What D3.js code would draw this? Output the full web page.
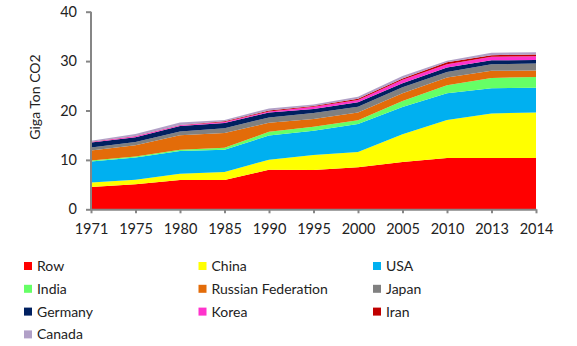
<!DOCTYPE html>
<html>
<head>
<meta charset="utf-8">
<script src="https://cdnjs.cloudflare.com/ajax/libs/d3/7.8.5/d3.min.js"></script>
<style>
  body { margin: 0; background: #fff; }
  svg text { font-family: Lato, "Open Sans", sans-serif; fill: #222; }
</style>
</head>
<body>
<svg id="chart" width="577" height="346"></svg>
<script>
// CO2 emissions by country, Gt
var years = ['1971', '1975', '1980', '1985', '1990', '1995', '2000', '2005', '2010', '2013', '2014'];
var countries = ['Row', 'China', 'USA', 'India', 'Russian Federation', 'Japan', 'Germany', 'Korea', 'Iran', 'Canada'];
var colors = ['#ff0000', '#ffff00', '#00b0f0', '#66ff66', '#e36c09', '#808080', '#002060', '#ff33cc', '#c00000', '#b1a0c7'];

var row     = [4.5, 5.05, 5.95, 5.95, 8.0, 7.95, 8.5, 9.6, 10.4, 10.4, 10.4];
var china   = [0.95, 0.95, 1.25, 1.6, 2.05, 3.05, 3.1, 5.6, 7.7, 9.0, 9.2];
var usa     = [4.25, 4.5, 4.6, 4.5, 4.9, 4.9, 5.65, 5.5, 5.4, 5.1, 5.0];
var india   = [0.2, 0.2, 0.27, 0.4, 0.75, 0.8, 0.8, 1.2, 1.6, 2.1, 2.2];
var russia  = [2.0, 2.25, 2.9, 3.0, 1.8, 1.6, 1.55, 1.6, 1.6, 1.45, 1.3];
var japan   = [0.6, 0.65, 0.8, 0.95, 1.1, 1.2, 1.15, 1.2, 1.1, 1.3, 1.4];
var germany = [1.0, 1.0, 1.1, 1.05, 1.0, 0.8, 0.9, 0.8, 0.9, 0.8, 0.7];
var korea   = [0.1, 0.2, 0.15, 0.2, 0.2, 0.45, 0.47, 0.7, 0.65, 0.75, 0.8];
var iran    = [0.05, 0.05, 0.05, 0.15, 0.2, 0.15, 0.27, 0.3, 0.4, 0.3, 0.35];
var canada  = [0.25, 0.4, 0.5, 0.3, 0.4, 0.3, 0.4, 0.5, 0.3, 0.5, 0.45];

var series = [row, china, usa, india, russia, japan, germany, korea, iran, canada];
var yTicks = [0, 10, 20, 30, 40];

var table = years.map(function(y, i) {
    var d = {year: y};
    countries.forEach(function(c, k) { d[c] = series[k][i]; });
    return d;
});

var svg = d3.select('#chart');
var axisColor = '#868686';

var x = d3.scalePoint().domain(years).range([91, 536]);
var y = d3.scaleLinear().domain([0, 40]).range([209.3, 11.7]);

var stacked = d3.stack().keys(countries)(table);

var area = d3.area()
    .x(function(d) { return x(d.data.year); })
    .y0(function(d) { return y(d[0]); })
    .y1(function(d) { return y(d[1]); });

svg.append('g').attr('class', 'layers')
    .selectAll('path')
    .data(stacked)
    .enter().append('path')
    .attr('d', area)
    .attr('fill', function(d, i) { return colors[i]; });

// y axis
var yAxis = svg.append('g')
    .attr('transform', 'translate(' + x(years[0]) + ',0)')
    .call(d3.axisLeft(y).tickValues(yTicks).tickSize(5).tickPadding(9));
// x axis
var xAxis = svg.append('g')
    .attr('transform', 'translate(0,' + y(0) + ')')
    .call(d3.axisBottom(x).tickSize(4).tickSizeOuter(0).tickPadding(10));

[yAxis, xAxis].forEach(function(ax) {
    ax.select('.domain').attr('stroke', axisColor).attr('stroke-width', 2);
    ax.selectAll('.tick line').attr('stroke', axisColor).attr('stroke-width', 2);
    ax.selectAll('.tick text').style('font-size', '14.5px').style('font-family', 'Lato, sans-serif').attr('fill', '#222');
});
yAxis.select('.domain').attr('d', 'M0,' + y(40) + 'V' + y(0));

svg.append('text')
    .attr('transform', 'translate(40,' + 97 + ') rotate(-90)')
    .attr('text-anchor', 'middle')
    .style('font-size', '14px')
    .text('Giga Ton CO2');

// legend, three columns
var legend = svg.append('g').selectAll('g')
    .data(countries)
    .enter().append('g')
    .attr('transform', function(d, i) {
        return 'translate(' + (24 + (i % 3) * 174.5) + ',' + (266 + Math.floor(i / 3) * 22.8) + ')';
    });
legend.append('rect')
    .attr('x', 0).attr('y', -4).attr('width', 8).attr('height', 8)
    .attr('fill', function(d, i) { return colors[i]; });
legend.append('text')
    .attr('x', 13).attr('y', 0).attr('dy', '0.35em')
    .style('font-size', '14px')
    .text(function(d) { return d; });
</script>
</body>
</html>
